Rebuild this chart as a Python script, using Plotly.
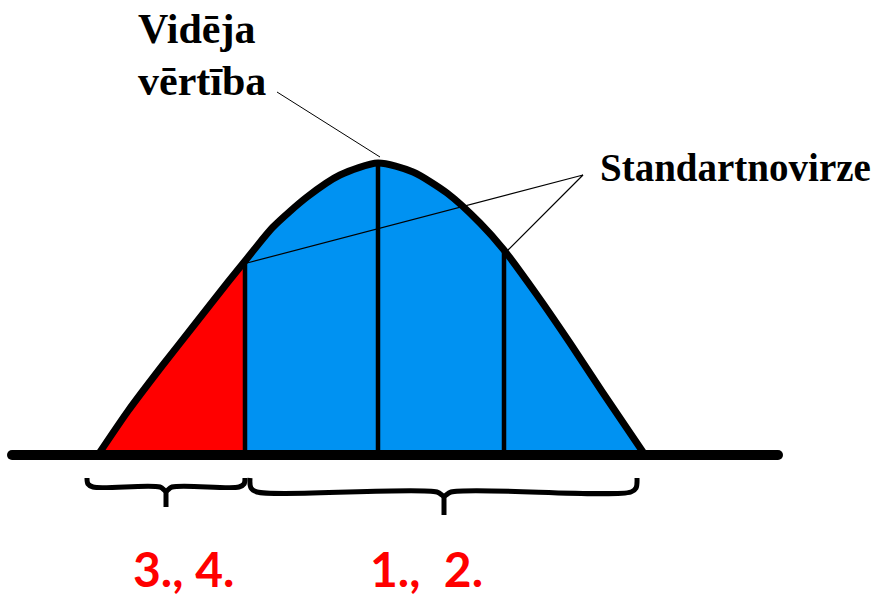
import plotly.graph_objects as go

# bell curve: horizontal position and height above the baseline
curve_x = [98, 128, 162, 195, 228, 245, 273, 307, 340, 378, 413, 447, 480, 504, 537, 570, 603, 645]
curve_h = [0, 44, 89, 131, 173, 194, 228, 258, 280, 292, 283, 262, 232, 205, 160, 112, 62, 0]

# vertical dividers: -1 sigma, mean, +1 sigma
divider_x = [245, 378, 504]
split_x = 245  # red tail ends here

baseline_x = [12, 778]

# pointer lines for the labels
mean_ptr_x = [277, 380]
mean_ptr_h = [363, 298]
std_ptr_x = [247, 583, 508]
std_ptr_h = [192, 280, 205]

# curly brackets under the axis
left_br_x = [87, 88, 93, 160, 166, 172, 239, 244, 245]
left_br_h = [-23, -29, -32, -32, -36, -32, -32, -29, -23]
left_tip_x = [166, 166]
left_tip_h = [-34, -52]
right_br_x = [250, 251, 257, 437, 444, 451, 631, 636, 637]
right_br_h = [-23, -33, -37, -37, -41, -37, -37, -33, -23]
right_tip_x = [444, 444]
right_tip_h = [-39, -60]

BLUE = "#0092F2"
RED = "#FF0000"

fig = go.Figure()

red_x = [x for x in curve_x if x <= split_x]
red_h = curve_h[:len(red_x)]
blue_x = [x for x in curve_x if x >= split_x]
blue_h = curve_h[len(curve_x) - len(blue_x):]

fig.add_trace(go.Scatter(x=red_x, y=red_h, mode="lines", line=dict(width=0, shape="spline", smoothing=0.7),
                         fill="tozeroy", fillcolor=RED))
fig.add_trace(go.Scatter(x=blue_x, y=blue_h, mode="lines", line=dict(width=0, shape="spline", smoothing=0.7),
                         fill="tozeroy", fillcolor=BLUE))

for dx in divider_x:
    fig.add_trace(go.Scatter(x=[dx, dx], y=[0, curve_h[curve_x.index(dx)]], mode="lines",
                             line=dict(color="black", width=4.5)))

fig.add_trace(go.Scatter(x=curve_x, y=curve_h, mode="lines",
                         line=dict(color="black", width=7, shape="spline", smoothing=0.7)))

fig.add_trace(go.Scatter(x=baseline_x, y=[0, 0], mode="lines+markers",
                         line=dict(color="black", width=10),
                         marker=dict(color="black", size=10)))

fig.add_trace(go.Scatter(x=mean_ptr_x, y=mean_ptr_h, mode="lines", line=dict(color="black", width=1)))
fig.add_trace(go.Scatter(x=std_ptr_x, y=std_ptr_h, mode="lines", line=dict(color="black", width=1.2)))

for bx, bh in [(left_br_x, left_br_h), (left_tip_x, left_tip_h),
               (right_br_x, right_br_h), (right_tip_x, right_tip_h)]:
    fig.add_trace(go.Scatter(x=bx, y=bh, mode="lines",
                             line=dict(color="black", width=5, shape="spline")))

serif = dict(family="Liberation Serif", size=42, color="black", weight="bold")
labels = [
    ("Vidēja", 136, 426, serif),
    ("vērtība", 136, 374, serif),
    ("Standartnovirze", 598, 288, dict(serif, size=39)),
]
for txt, x, y, f in labels:
    fig.add_annotation(x=x, y=y, text=txt, showarrow=False, xanchor="left", yanchor="middle", font=f)

red_font = dict(family="Lato", size=48, color=RED, weight="bold")
fig.add_annotation(x=183, y=-113, text="3., 4.", showarrow=False, font=red_font)
fig.add_annotation(x=426, y=-113, text="1.,  2.", showarrow=False, font=red_font)

fig.update_layout(
    width=880, height=596,
    margin=dict(l=0, r=0, t=0, b=0),
    paper_bgcolor="white", plot_bgcolor="white",
    showlegend=False,
    xaxis=dict(range=[0, 880], visible=False, fixedrange=True),
    yaxis=dict(range=[-141, 455], visible=False, fixedrange=True),
)

fig.write_html("out.html", config={"displayModeBar": False},
               post_script="document.body.style.margin='0';document.body.style.overflow='hidden';")
